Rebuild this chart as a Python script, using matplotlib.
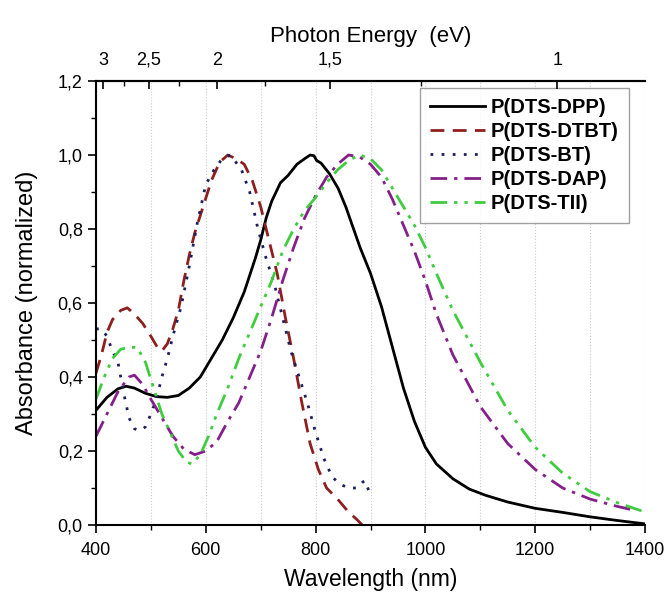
import numpy as np
import matplotlib.pyplot as plt
from matplotlib.ticker import MultipleLocator, FuncFormatter, FixedLocator

plt.rcParams['font.family'] = ['Liberation Sans', 'DejaVu Sans']

# P(DTS-DPP)
wl_dpp = [400, 420, 440, 455, 470, 490, 510, 530, 550, 570, 590, 610, 630, 650, 670,
          690, 700, 710, 720, 736, 750, 766, 780, 790, 797, 802, 810, 825, 841, 855,
          868, 881, 900, 920, 940, 960, 980, 1000, 1020, 1050, 1080, 1110, 1150,
          1200, 1250, 1300, 1350, 1400]
ab_dpp = [0.31, 0.345, 0.368, 0.375, 0.37, 0.356, 0.347, 0.345, 0.35, 0.37, 0.40,
          0.45, 0.50, 0.56, 0.63, 0.72, 0.77, 0.83, 0.875, 0.925, 0.945, 0.975, 0.99,
          1.0, 0.998, 0.985, 0.978, 0.95, 0.91, 0.86, 0.805, 0.75, 0.68, 0.59, 0.48,
          0.37, 0.28, 0.21, 0.165, 0.125, 0.097, 0.08, 0.062, 0.045, 0.034, 0.022,
          0.012, 0.003]

# P(DTS-DTBT)
wl_dtbt = [400, 410, 420, 430, 445, 457, 470, 485, 500, 512, 520, 530, 540, 550, 560,
           570, 580, 595, 610, 625, 640, 655, 670, 685, 700, 715, 730, 745, 760, 775,
           790, 805, 820, 840, 860, 875, 885]
ab_dtbt = [0.41, 0.46, 0.52, 0.555, 0.58, 0.587, 0.57, 0.545, 0.51, 0.48, 0.47, 0.49,
           0.53, 0.58, 0.66, 0.73, 0.79, 0.86, 0.93, 0.98, 1.0, 0.99, 0.975, 0.93,
           0.86, 0.77, 0.68, 0.56, 0.45, 0.33, 0.22, 0.15, 0.10, 0.07, 0.035, 0.015, 0.0]

# P(DTS-BT)
wl_bt = [400, 410, 420, 430, 440, 450, 460, 470, 480, 490, 500, 510, 520, 530, 540,
         555, 570, 585, 600, 615, 630, 645, 655, 665, 680, 695, 710, 725, 740, 755,
         770, 785, 800, 815, 830, 845, 860, 875, 885, 890, 895, 900]
ab_bt = [0.53, 0.53, 0.51, 0.47, 0.44, 0.36, 0.29, 0.26, 0.255, 0.265, 0.30, 0.34,
         0.40, 0.45, 0.51, 0.59, 0.70, 0.82, 0.92, 0.96, 0.99, 1.0, 0.98, 0.96, 0.90,
         0.80, 0.72, 0.65, 0.56, 0.47, 0.40, 0.33, 0.25, 0.18, 0.13, 0.11, 0.10, 0.10,
         0.115, 0.12, 0.10, 0.08]

# P(DTS-DAP)
wl_dap = [400, 420, 440, 460, 470, 485, 500, 520, 540, 560, 580, 600, 620, 640, 660,
          680, 700, 720, 740, 760, 780, 800, 820, 840, 860, 880, 900, 920, 940, 960,
          980, 1000, 1020, 1050, 1100, 1150, 1200, 1250, 1300, 1350, 1380]
ab_dap = [0.24, 0.30, 0.36, 0.40, 0.405, 0.38, 0.34, 0.29, 0.24, 0.205, 0.19, 0.20,
          0.225, 0.28, 0.33, 0.40, 0.47, 0.56, 0.66, 0.75, 0.83, 0.89, 0.94, 0.975,
          1.0, 0.995, 0.975, 0.94, 0.88, 0.81, 0.74, 0.66, 0.57, 0.46, 0.32, 0.22,
          0.15, 0.10, 0.07, 0.05, 0.04]

# P(DTS-TII)
wl_tii = [400, 415, 430, 445, 460, 475, 490, 505, 520, 535, 550, 565, 575, 590, 605,
          620, 640, 660, 680, 700, 720, 740, 760, 780, 800, 820, 840, 860, 880, 900,
          920, 940, 960, 980, 1000, 1020, 1050, 1100, 1150, 1200, 1250, 1300, 1350, 1400]
ab_tii = [0.34, 0.40, 0.45, 0.475, 0.48, 0.48, 0.44, 0.37, 0.30, 0.25, 0.20, 0.17,
          0.165, 0.19, 0.24, 0.30, 0.37, 0.45, 0.52, 0.59, 0.66, 0.74, 0.80, 0.85,
          0.885, 0.925, 0.96, 0.985, 1.0, 0.99, 0.96, 0.91, 0.86, 0.81, 0.75, 0.68,
          0.58, 0.44, 0.31, 0.21, 0.14, 0.09, 0.06, 0.035]

series = [
    (wl_dpp, ab_dpp, 'P(DTS-DPP)', '#000000', '-'),
    (wl_dtbt, ab_dtbt, 'P(DTS-DTBT)', '#8e1f1f', (0, (5, 3))),
    (wl_bt, ab_bt, 'P(DTS-BT)', '#1b1f5e', (0, (1, 3))),
    (wl_dap, ab_dap, 'P(DTS-DAP)', '#85208a', (0, (6, 2.5, 1.2, 2.5))),
    (wl_tii, ab_tii, 'P(DTS-TII)', '#3fcc3f', (0, (6, 2.5, 1.2, 2.5, 1.2, 2.5))),
]

energy_ticks = [3, 2.5, 2, 1.5, 1]
energy_minor = [2.75, 2.25, 1.75, 1.25]

fig = plt.figure(figsize=(6.68, 5.94), dpi=100)
ax = fig.add_axes([0.1437, 0.1162, 0.8219, 0.7474])

for x, y, lab, col, ls in series:
    ax.plot(x, y, color=col, linestyle=ls, linewidth=2.0, label=lab)

ax.set_xlim(400, 1400)
ax.set_ylim(0, 1.2)
ax.xaxis.set_major_locator(MultipleLocator(200))
ax.xaxis.set_minor_locator(MultipleLocator(100))
ax.yaxis.set_major_locator(MultipleLocator(0.2))
ax.yaxis.set_minor_locator(MultipleLocator(0.1))
ax.yaxis.set_major_formatter(FuncFormatter(lambda v, p: f"{v:.1f}".replace('.', ',')))
ax.tick_params(axis='both', which='major', direction='out', length=6, width=1.2, labelsize=13)
ax.tick_params(axis='x', which='major', pad=6)
ax.tick_params(axis='both', which='minor', direction='out', length=3.5, width=1.0)
ax.grid(True, which='both', axis='x', color='#cccccc', linestyle=':', linewidth=0.8)
for side in ['left', 'bottom', 'top']:
    ax.spines[side].set_linewidth(1.5)
ax.spines['right'].set_visible(False)
ax.set_xlabel('Wavelength (nm)', fontsize=16.5, labelpad=7)
ax.set_ylabel('Absorbance (normalized)', fontsize=17, labelpad=14)

top = ax.twiny()
top.set_xlim(ax.get_xlim())
top.xaxis.set_major_locator(FixedLocator([1240 / e for e in energy_ticks]))
top.xaxis.set_minor_locator(FixedLocator([1240 / e for e in energy_minor]))
top.set_xticklabels([f"{e:g}".replace('.', ',') for e in energy_ticks])
top.tick_params(axis='x', which='major', direction='in', length=6, width=1.2, labelsize=13, pad=9)
top.tick_params(axis='x', which='minor', direction='in', length=3.5, width=1.0)
for s in ['left', 'right', 'bottom']:
    top.spines[s].set_visible(False)
top.spines['top'].set_linewidth(1.5)
top.set_xlabel('Photon Energy  (eV)', fontsize=16, labelpad=7)

leg = ax.legend(loc='upper right', bbox_to_anchor=(0.97, 0.984), borderaxespad=0,
                fancybox=False, edgecolor='#888888', handlelength=2.7, handletextpad=0.3,
                labelspacing=0.25, borderpad=0.5, prop={'weight': 'bold', 'size': 14.5})
leg.get_frame().set_linewidth(1.0)

fig.savefig('out.png', dpi=100)
